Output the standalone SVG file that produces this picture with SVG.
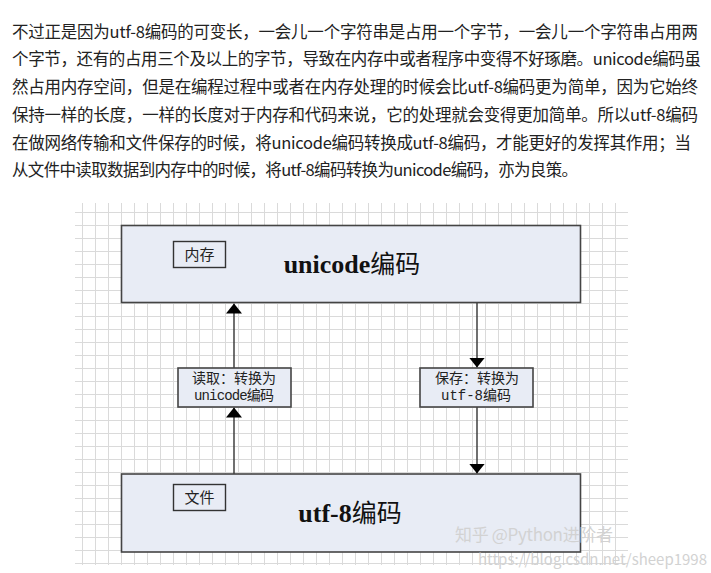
<svg xmlns="http://www.w3.org/2000/svg" width="711" height="573" viewBox="0 0 711 573">
<style>
.para{font-family:"Noto Sans CJK SC","Noto Sans",sans-serif;font-size:16.5px;fill:#222}
.box{fill:#e8ecf5;stroke:#444;stroke-width:1.6}
.tag{fill:#e8ecf5;stroke:#333;stroke-width:1.4}
.big{font-family:"Liberation Serif","Noto Sans CJK SC",serif;font-size:26px;font-weight:bold;fill:#111;text-anchor:middle}
.cjk{font-family:"Noto Sans CJK SC",sans-serif;font-weight:normal;font-size:25px}
.small{font-family:"Noto Sans CJK SC",sans-serif;font-size:15px;fill:#222;text-anchor:middle}
.mono{font-family:"Liberation Mono","Noto Sans CJK SC",monospace;font-size:14px;fill:#222;text-anchor:middle}
.wire{stroke:#333;stroke-width:1.4;fill:none}
.wm{font-family:"Noto Sans CJK SC","Liberation Sans",sans-serif;fill:#d2d2d2}
</style>
<defs>
<pattern id="grid" x="4" y="4" width="13" height="13" patternUnits="userSpaceOnUse">
<path d="M0.5 0V13M0 0.5H13" stroke="#dadada" stroke-width="1"/>
</pattern>
<marker id="ah" viewBox="0 0 10 16" refX="10" refY="8" markerWidth="10" markerHeight="16" markerUnits="userSpaceOnUse" orient="auto">
<path d="M0 0L10 8L0 16z" fill="#000"/>
</marker>
</defs>
<rect width="711" height="573" fill="#fff"/>
<g id="paragraph">
<text class="para" x="12" y="38" textLength="686" lengthAdjust="spacing">不过正是因为utf-8编码的可变长，一会儿一个字符串是占用一个字节，一会儿一个字符串占用两</text>
<text class="para" x="12" y="65" textLength="689" lengthAdjust="spacing">个字节，还有的占用三个及以上的字节，导致在内存中或者程序中变得不好琢磨。unicode编码虽</text>
<text class="para" x="12" y="93" textLength="686" lengthAdjust="spacing">然占用内存空间，但是在编程过程中或者在内存处理的时候会比utf-8编码更为简单，因为它始终</text>
<text class="para" x="12" y="121" textLength="686" lengthAdjust="spacing">保持一样的长度，一样的长度对于内存和代码来说，它的处理就会变得更加简单。所以utf-8编码</text>
<text class="para" x="12" y="149" textLength="679" lengthAdjust="spacing">在做网络传输和文件保存的时候，将unicode编码转换成utf-8编码，才能更好的发挥其作用；当</text>
<text class="para" x="12" y="176" textLength="566" lengthAdjust="spacing">从文件中读取数据到内存中的时候，将utf-8编码转换为unicode编码，亦为良策。</text>
</g>
<rect x="75" y="203" width="553" height="362" fill="url(#grid)"/>
<g id="connectors">
<line class="wire" x1="234" y1="368" x2="234" y2="303.5" marker-end="url(#ah)"/>
<line class="wire" x1="234" y1="474" x2="234" y2="407.5" marker-end="url(#ah)"/>
<line class="wire" x1="477" y1="303" x2="477" y2="367.5" marker-end="url(#ah)"/>
<line class="wire" x1="477" y1="407" x2="477" y2="473.5" marker-end="url(#ah)"/>
</g>
<g id="unicode">
<rect class="box" x="121.5" y="225.5" width="459" height="77"/>
<rect class="tag" x="173.5" y="241.5" width="52" height="26"/>
<text class="small" x="199.5" y="260">内存</text>
<text class="big" x="352" y="273">unicode<tspan class="cjk">编码</tspan></text>
</g>
<g id="read">
<rect class="box" x="178" y="368" width="113" height="39"/>
<text class="mono" x="234" y="383">读取：转换为</text>
<text class="mono" x="234" y="400" textLength="80" lengthAdjust="spacing">unicode编码</text>
</g>
<g id="save">
<rect class="box" x="420" y="368" width="113" height="39"/>
<text class="mono" x="477" y="383">保存：转换为</text>
<text class="mono" x="476" y="400">utf-8编码</text>
</g>
<g id="utf8">
<rect class="box" x="121.5" y="474" width="459" height="78"/>
<rect class="tag" x="173.5" y="484.5" width="52" height="26"/>
<text class="small" x="199.5" y="503">文件</text>
<text class="big" x="350" y="522">utf-8<tspan class="cjk">编码</tspan></text>
</g>
<g id="watermark">
<text class="wm" x="455" y="541" font-size="17" textLength="158" lengthAdjust="spacing">知乎 @Python进阶者</text>
<text class="wm" x="478" y="565" font-size="15" textLength="229" lengthAdjust="spacing">https://blog.csdn.net/sheep1998</text>
</g>
</svg>
